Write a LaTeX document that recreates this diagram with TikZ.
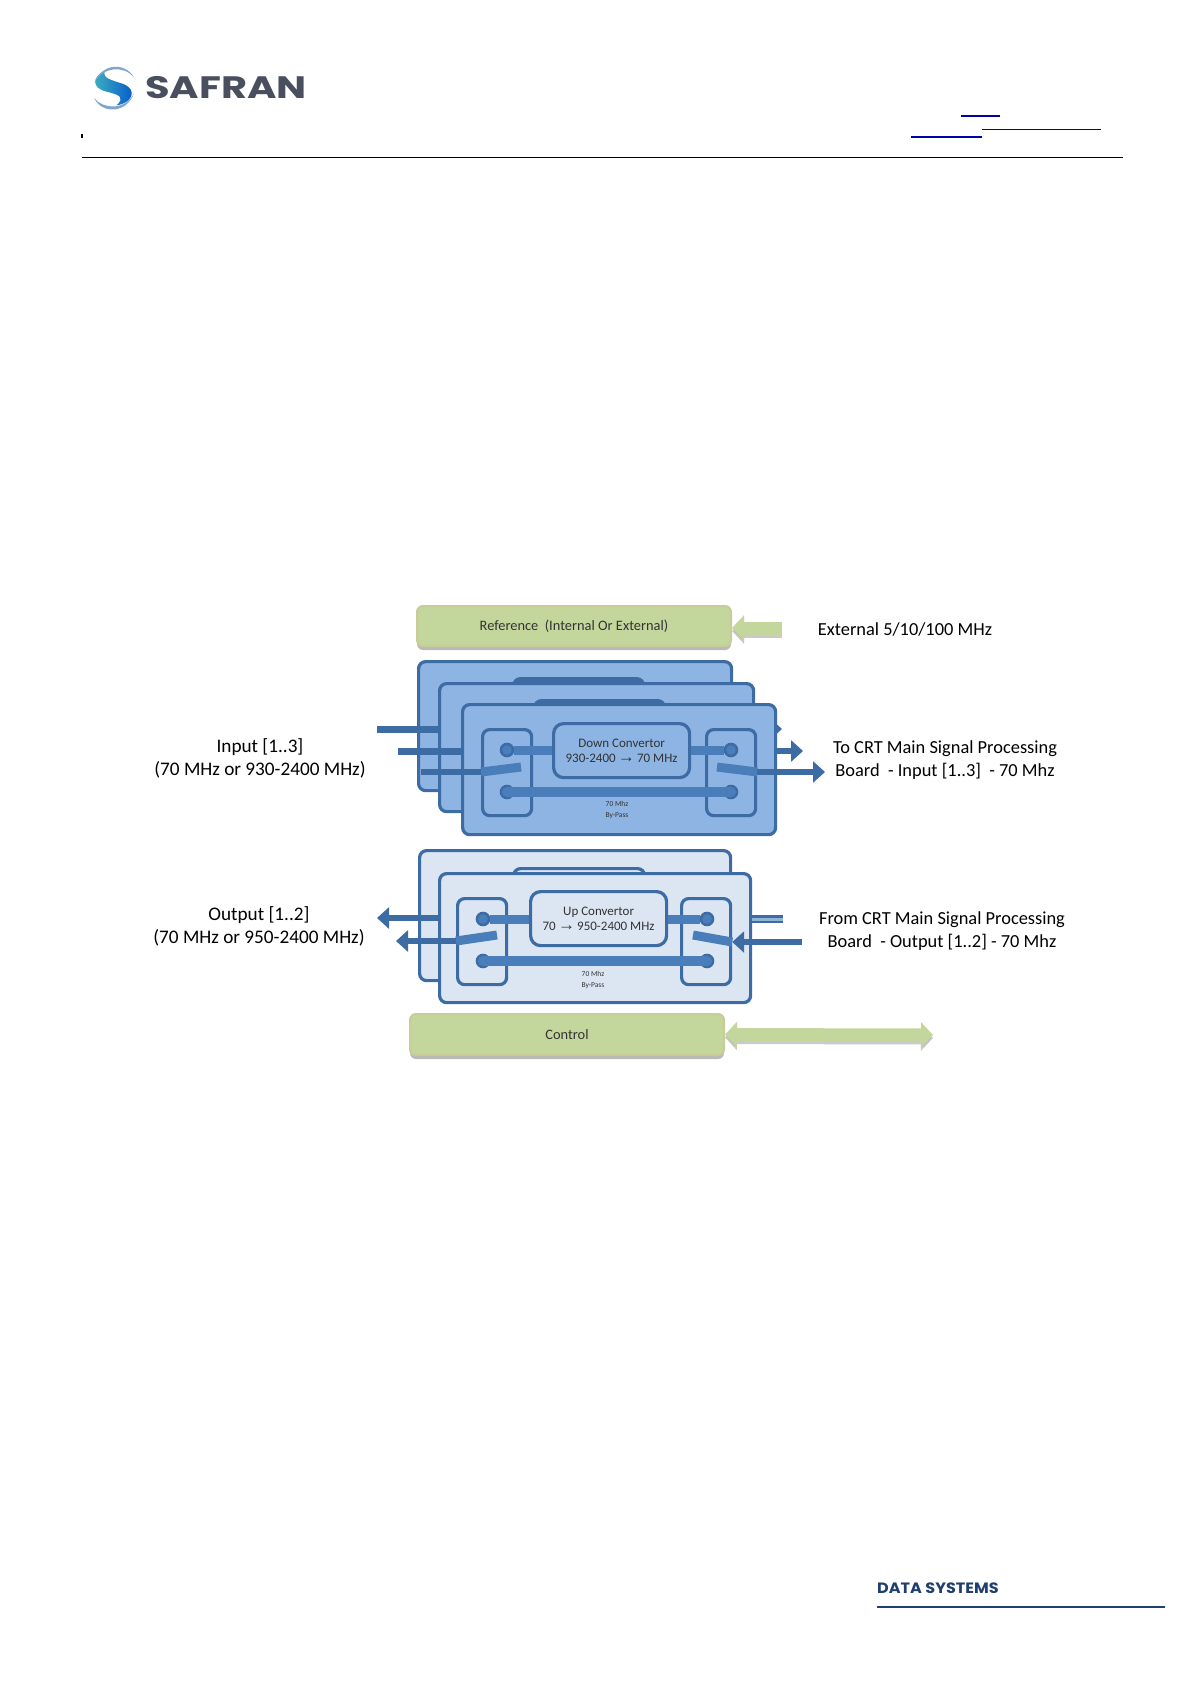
\documentclass[tikz,border=0pt]{standalone}
\usepackage{xcolor}
\usepackage{fontspec}
\setmainfont{Carlito}
\newfontfamily\logofont{Poppins}
\newfontfamily\arrowfont{Liberation Sans}
\usetikzlibrary{arrows.meta, positioning, shadows}
\definecolor{cardblue}{RGB}{142,180,227}
\definecolor{cardlight}{RGB}{220,230,242}
\definecolor{edgeblue}{RGB}{60,108,163}
\definecolor{barblue}{RGB}{74,126,187}
\definecolor{boxgreen}{RGB}{195,214,155}
\definecolor{boxedge}{RGB}{201,204,152}
\definecolor{logogrey}{RGB}{74,79,96}
\definecolor{linkblue}{RGB}{0,0,170}
\definecolor{footblue}{RGB}{31,63,111}

\begin{document}
\begin{tikzpicture}[
    x=1pt, y=-1pt,
    card/.style={rectangle, draw=edgeblue, line width=3.2pt, rounded corners=7pt, anchor=north west, inner sep=0pt},
    dncard/.style={card, fill=cardblue},
    upcard/.style={card, fill=cardlight},
    swbox/.style={card, minimum width=49pt, minimum height=86pt},
    conv/.style={card, minimum width=136pt, minimum height=54pt, rounded corners=10pt, align=center, text=black!80, font=\fontsize{13}{15}\selectfont},
    backconv/.style={card, fill=edgeblue, minimum width=130pt, minimum height=20pt},
    pin/.style={circle, fill=barblue, draw=edgeblue, line width=2.6pt, minimum size=12pt, inner sep=0pt},
    greenbox/.style={rectangle, fill=boxgreen, draw=boxedge, line width=2pt, rounded corners=6pt, anchor=north west, minimum width=314pt, minimum height=40pt, text=black!80, drop shadow={shadow xshift=0pt, shadow yshift=-4pt, fill=black!50, opacity=.55}, font=\fontsize{14.4}{15}\selectfont},
    bar/.style={draw=barblue, line width=9pt},
    stub/.style={draw=edgeblue, line width=7pt},
    outarrow/.style={draw=edgeblue, line width=6.5pt, -{Triangle[width=21pt, length=12pt]}},
    greenarrow/.style={draw=boxgreen, line width=13pt, -{Triangle[width=25pt, length=12pt]}},
    greenshade/.style={draw=black!35, opacity=.6, transform canvas={yshift=-3pt}},
    label/.style={align=center, font=\fontsize{18.4}{23}\selectfont},
    leftlabel/.style={label, font=\fontsize{19.2}{23}\selectfont},
    tiny/.style={align=center, text=black!80, font=\fontsize{7.5}{11.5}\selectfont}
]
\useasboundingbox (0,0) rectangle (1191,1684);
\newcommand{\convarrow}{{\arrowfont\fontsize{17}{15}\selectfont →}}

% Header
\begin{scope}[shift={(60,40)}, x=0.3333pt, y=-0.3333pt]
\path[left color=blue!10!cyan!50!gray, right color=blue!60!cyan!80!black] (135,92) .. controls (95,110) and (95,145) .. (140,155) .. controls (180,165) and (195,172) .. (170,196) .. controls (215,190) and (235,150) .. (190,132) .. controls (155,120) and (125,115) .. (135,92) -- cycle;
\fill[barblue!70] (103,128) .. controls (125,70) and (195,65) .. (222,112) .. controls (190,75) and (130,80) .. (103,128) -- cycle;
\fill[barblue!70] (103,175) .. controls (125,222) and (200,222) .. (222,160) .. controls (195,212) and (130,208) .. (103,175) -- cycle;
\end{scope}
\node[font=\logofont\bfseries\fontsize{31}{31}\selectfont, text=logogrey, anchor=center, inner sep=0pt] (safran) at (226,88) {\scalebox{1.29}[1]{SAFRAN}};
\node[fill=black, minimum width=2pt, minimum height=4pt, inner sep=0pt] (tick) at (82,136) {};
\draw[black, line width=1pt] (82,157) -- (1123,157);
\draw[linkblue, line width=2pt] (961,116) -- (1000,116);
\draw[linkblue, line width=1pt] (982,129) -- (1101,129);
\draw[linkblue, line width=2pt] (911,137) -- (982,137);

% Reference
\node[greenbox] (refbox) at (416,605) {Reference\ \ (Internal Or External)};
\coordinate (extref) at (782,628);
\draw[greenarrow, greenshade] (extref) -- (refbox.east |- extref);
\draw[greenarrow] (extref) -- (refbox.east |- extref);
\node[label] (extlabel) at (905,629) {External 5/10/100 MHz};

% Down convertor cards
\node[dncard, minimum width=313pt, minimum height=129pt] (dncardA) at (417,660) {};
\coordinate (inA) at (377,729);
\coordinate (inB) at (398,751);
\coordinate (inC) at (421,772);
\coordinate (outA) at (782,729);
\coordinate (outB) at (803,751);
\coordinate (outC) at (825,772);
\draw[stub] (inA) -- (dncardA.east |- inA);
\draw[outarrow] (dncardA.east |- outA) -- (outA);
\node[backconv] (dnbackA) at (512,677) {};
\node[dncard, minimum width=314pt, minimum height=128pt] (dncardB) at (438,682) {};
\draw[stub] (inB) -- (dncardB.east |- inB);
\node[backconv] (dnbackB) at (533,699) {};
\node[dncard, minimum width=313pt, minimum height=130pt] (dncardC) at (461,703) {};
\node[swbox] (dnswL) at (481,728) {};
\node[swbox] (dnswR) at (705,728) {};
\node[conv] (dnconv) at (552,722) {Down Convertor\\930-2400\,\convarrow\,70 MHz};
\node[pin] (dnpinLa) at (507,750) {};
\node[pin] (dnpinLb) at (507,792) {};
\node[pin] (dnpinRa) at (731,750) {};
\node[pin] (dnpinRb) at (731,792) {};
\node[tiny] (dnbypass) at (617,810) {70 Mhz\\By-Pass};

\draw[bar] (dnpinLa) -- (dnconv.west |- dnpinLa);
\draw[bar] (dnconv.east |- dnpinRa) -- (dnpinRa);
\draw[bar, line width=10pt, line cap=round] (dnpinLb.center) -- (dnpinRb.center);
\coordinate (dnbladeL) at (521,767);
\coordinate (dnbladeR) at (717,767);
\draw[bar] (dnswL.west |- inC) -- (dnbladeL);
\draw[bar] (dnbladeR) -- (dnswR.east |- outC);
\draw[stub, line width=5.5pt] (inC) -- (dnswL.west |- inC);
\draw[outarrow] (dncardC.east |- outB) -- (outB);
\draw[outarrow] (dnswR.east |- outC) -- (outC);

\node[leftlabel] (inlabel) at (260,758) {Input [1..3]\\(70 MHz or 930-2400 MHz)};
\node[label] (tolabel) at (945,760) {To CRT Main Signal Processing\\Board\ \ - Input [1..3]\ \ - 70 Mhz};

% Up convertor cards
\node[upcard, minimum width=311pt, minimum height=130pt] (upcardA) at (418,849) {};
\node[backconv, fill=cardlight, minimum width=131pt] (upback) at (512,867) {};
\node[upcard, minimum width=311pt, minimum height=129pt] (upcardB) at (438,872) {};
\node[swbox] (upswL) at (456,897) {};
\node[swbox] (upswR) at (680,897) {};
\node[conv] (upconv) at (529,890) {Up Convertor\\70\,\convarrow\,950-2400 MHz};
\node[pin] (uppinLa) at (483,919) {};
\node[pin] (uppinLb) at (483,961) {};
\node[pin] (uppinRa) at (707,919) {};
\node[pin] (uppinRb) at (707,961) {};
\node[tiny] (upbypass) at (593,980) {70 Mhz\\By-Pass};

\draw[bar] (uppinLa) -- (upconv.west |- uppinLa);
\draw[bar] (upconv.east |- uppinRa) -- (uppinRa);
\draw[bar, line width=10pt, line cap=round] (uppinLb.center) -- (uppinRb.center);
\coordinate (uptipA) at (377,918);
\coordinate (uptipB) at (396,941);
\coordinate (upinA) at (783,919);
\coordinate (upinB) at (802,942);
\coordinate (upbladeL) at (497,935);
\coordinate (upbladeR) at (693,935);
\draw[bar] (upswL.west |- uptipB) -- (upbladeL);
\draw[bar] (upbladeR) -- (upswR.east |- upinB);
\draw[outarrow] (upcardB.west |- uptipA) -- (uptipA);
\draw[outarrow] (upswL.west |- uptipB) -- (uptipB);
\draw[draw=edgeblue, line width=2.2pt, double=barblue!60, double distance=3pt] (upcardB.east |- upinA) -- (upinA);
\draw[outarrow] (upinB) -- (upswR.east |- upinB);

\node[leftlabel] (outlabel) at (259,926) {Output [1..2]\\(70 MHz or 950-2400 MHz)};
\node[label] (fromlabel) at (942,931) {From CRT Main Signal Processing\\Board\ \ - Output [1..2] - 70 Mhz};

% Control
\node[greenbox, minimum height=41pt] (ctrlbox) at (409,1013) {Control};
\coordinate (ctrlend) at (933,1035);
\draw[greenarrow, greenshade, {Triangle[width=25pt, length=12pt]}-{Triangle[width=25pt, length=12pt]}] (ctrlbox.east) -- (ctrlend);
\draw[greenarrow, {Triangle[width=25pt, length=12pt]}-{Triangle[width=25pt, length=12pt]}] (ctrlbox.east) -- (ctrlend);

% Footer
\node[font=\logofont\bfseries\fontsize{15}{15}\selectfont, text=footblue, inner sep=0pt, anchor=west] (datasys) at (877,1588) {\scalebox{1.07}[1]{DATA SYSTEMS}};
\draw[footblue, line width=1.3pt] (877,1607) -- (1165,1607);
\end{tikzpicture}
\end{document}
